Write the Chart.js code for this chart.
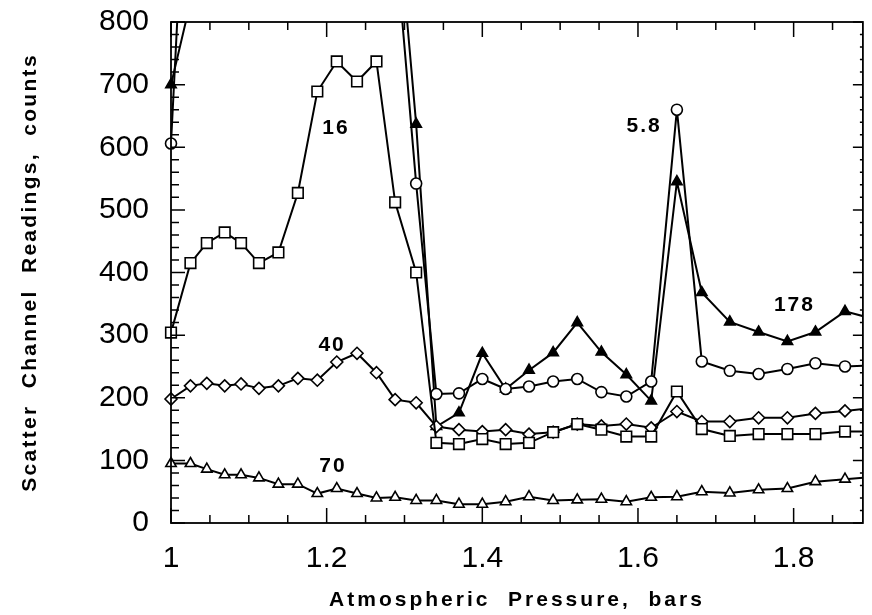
<!DOCTYPE html>
<html>
<head>
<meta charset="utf-8">
<script src="https://cdn.jsdelivr.net/npm/chart.js@4.4.0/dist/chart.umd.min.js"></script>
<style>
  html, body { margin: 0; padding: 0; background: #fff; overflow: hidden; }
  #wrap { width: 872px; height: 615px; }
  canvas { display: block; }
</style>
</head>
<body>
<div id="wrap"><canvas id="chart"></canvas></div>
<script>
// Pressure (bars) at each reading
const pressure = [1.0, 1.025, 1.046, 1.069, 1.090, 1.113, 1.138, 1.163, 1.188, 1.213, 1.239, 1.264,
                  1.288, 1.315, 1.341, 1.370, 1.400, 1.430, 1.460, 1.491, 1.522, 1.553, 1.585, 1.617,
                  1.650, 1.682, 1.718, 1.755, 1.792, 1.828, 1.866, 1.905];

// Scatter channel readings (counts); null = off scale, not readable
const ch16 = [304, 415, 447, 464, 447, 415, 432, 527, 689, 737, 705, 737,
              512, 400, 128, 126, 134, 126, 128, 145, 158, 149, 138, 138,
              210, 150, 139, 142, 142, 142, 146, 146];
const ch40 = [198, 219, 223, 219, 222, 215, 219, 231, 228, 257, 271, 240,
              197, 192, 154, 149, 146, 149, 142, 145, 158, 155, 158, 152,
              178, 162, 162, 168, 168, 175, 179, 184];
const ch70 = [95, 95, 86, 77, 77, 72, 62, 62, 47, 55, 47, 40,
              41, 36, 36, 30, 30, 34, 42, 36, 37, 38, 34, 41,
              42, 50, 48, 53, 55, 66, 70, 74];
const ch58 = [606, 1216, null, null, null, null, null, null, null, null, null, null,
              935, 542, 206, 207, 230, 214, 218, 226, 230, 209, 202, 226,
              660, 258, 243, 238, 246, 255, 250, 252];
const ch178 = [700, 832, null, null, null, null, null, null, null, null, null, null,
               1020, 637, 154, 176, 271, 214, 244, 272, 320, 273, 237, 195,
               545, 368, 321, 305, 290, 305, 338, 325];

const xTicks = [1.0, 1.2, 1.4, 1.6, 1.8];
const yTicks = [0, 100, 200, 300, 400, 500, 600, 700, 800];
const curveNames = ['16', '40', '70', '5.8', '178'];
const xTitle = 'Atmospheric  Pressure,  bars';
const yTitle = 'Scatter  Channel  Readings,  counts';

const FONT = '"Liberation Sans", Arial, Helvetica, sans-serif';

function pts(values) {
    return values.map((v, i) => ({ x: pressure[i], y: v }));
}

function series(label, values, style, filled, radius) {
    return {
        label: label,
        data: pts(values),
        borderColor: '#000',
        borderWidth: 2,
        backgroundColor: filled ? '#000' : '#fff',
        pointStyle: style,
        pointRadius: radius,
        pointBorderWidth: 1.6,
        pointBorderColor: '#000',
        pointBackgroundColor: filled ? '#000' : '#fff',
        spanGaps: true,
        tension: 0,
        clip: { left: 8, top: 0, right: 0, bottom: 8 }
    };
}

// Frame with inward ticks, axis titles and the curve labels
const frameTicks = {
    id: 'frameTicks',
    afterDraw(chart) {
        const { ctx, chartArea: a, scales: { x, y } } = chart;
        ctx.save();
        ctx.strokeStyle = '#000';
        ctx.lineWidth = 1.8;
        ctx.strokeRect(a.left, a.top, a.right - a.left, a.bottom - a.top);

        ctx.lineWidth = 1.5;
        for (let k = 0; k <= 18; k++) {
            const px = x.getPixelForValue(1 + k * 0.05);
            if (px > a.right) break;
            const len = (k % 4 === 0) ? 15 : 8;
            ctx.beginPath();
            ctx.moveTo(px, a.bottom); ctx.lineTo(px, a.bottom - len);
            ctx.moveTo(px, a.top); ctx.lineTo(px, a.top + len);
            ctx.stroke();
        }
        for (let k = 0; k <= 40; k++) {
            const py = y.getPixelForValue(k * 20);
            const major = k % 5 === 0;
            ctx.beginPath();
            ctx.moveTo(a.left, py); ctx.lineTo(a.left + (major ? 14 : 8), py);
            ctx.moveTo(a.right, py); ctx.lineTo(a.right - (major ? 10 : 3), py);
            ctx.stroke();
        }

        ctx.fillStyle = '#000';
        ctx.textAlign = 'center';
        ctx.textBaseline = 'alphabetic';
        ctx.font = 'bold 21px ' + FONT;
        ctx.letterSpacing = '3px';
        ctx.fillText(xTitle, (a.left + a.right) / 2, 606);
        ctx.save();
        ctx.letterSpacing = '2.3px';
        ctx.translate(36, (a.top + a.bottom) / 2);
        ctx.rotate(-Math.PI / 2);
        ctx.fillText(yTitle, 0, 0);
        ctx.restore();

        const at = chart.options.plugins.frameTicks.anchors;
        ctx.letterSpacing = '2px';
        ctx.textBaseline = 'middle';
        curveNames.forEach((name, i) => {
            ctx.fillText(name, x.getPixelForValue(at[i][0]), y.getPixelForValue(at[i][1]));
        });
        ctx.restore();
    }
};

const ctx = document.getElementById('chart').getContext('2d');
new Chart(ctx, {
    type: 'line',
    data: {
        datasets: [
            series('16', ch16, 'rect', false, 7.5),
            series('40', ch40, 'rectRot', false, 6),
            series('70', ch70, 'triangle', false, 6),
            series('5.8', ch58, 'circle', false, 5.5),
            series('178', ch178, 'triangle', true, 6)
        ]
    },
    options: {
        responsive: true,
        maintainAspectRatio: false,
        animation: false,
        layout: { padding: { top: 22, right: 2, left: 0, bottom: 0 } },
        scales: {
            x: {
                type: 'linear',
                min: 1.0,
                max: 1.889,
                afterBuildTicks: s => { s.ticks = xTicks.map(v => ({ value: v })); },
                afterFit: s => { s.height = 92; s.paddingLeft = 0; s.paddingRight = 0; },
                grid: { display: false, drawTicks: false },
                border: { display: false },
                ticks: {
                    color: '#000',
                    padding: 18,
                    maxRotation: 0,
                    autoSkip: false,
                    font: { family: FONT, size: 30 },
                    callback: v => String(v)
                }
            },
            y: {
                min: 0,
                max: 800,
                afterBuildTicks: s => { s.ticks = yTicks.map(v => ({ value: v })); },
                afterFit: s => { s.width = 171; s.paddingTop = 0; s.paddingBottom = 0; },
                grid: { display: false, drawTicks: false },
                border: { display: false },
                ticks: {
                    color: '#000',
                    padding: 22,
                    font: { family: FONT, size: 30 }
                }
            }
        },
        plugins: {
            legend: { display: false },
            tooltip: { enabled: false },
            frameTicks: {
                anchors: [[1.212, 631], [1.207, 284], [1.208, 91], [1.608, 634], [1.801, 348]]
            }
        }
    },
    plugins: [frameTicks]
});
</script>
</body>
</html>
